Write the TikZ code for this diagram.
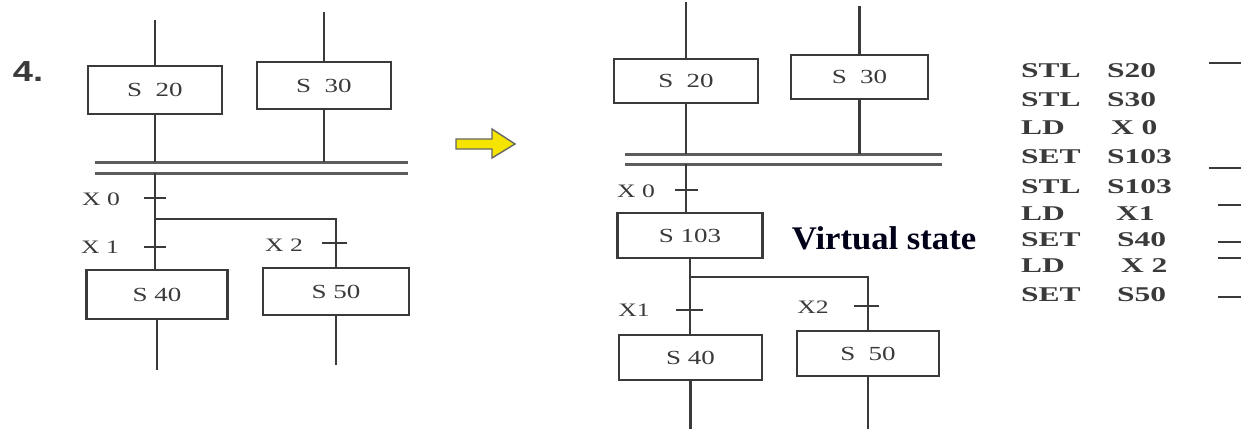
\documentclass[tikz,border=0pt]{standalone}
\usepackage{fontspec}
\setmainfont{Liberation Serif}
\newfontfamily\stepfont{Liberation Serif}[FakeStretch=1.35]
\newfontfamily\codefont{Liberation Serif}[FakeStretch=1.5]
\newfontfamily\vsfont{Liberation Serif}[FakeStretch=1.05]
\newfontfamily\numfont{Liberation Sans}[FakeStretch=1.25]
\usepackage{tikz}
\usetikzlibrary{positioning}
\definecolor{linec}{HTML}{3a3a3a}
\definecolor{barc}{HTML}{5c5c5c}
\definecolor{arrowc}{HTML}{f5e400}

\begin{document}
\begin{tikzpicture}[x=1pt,y=-1pt,
  line width=2.2pt, draw=linec,
  stepbox/.style={draw=linec, line width=2.2pt, inner sep=0pt,
    font=\stepfont\fontsize{20}{24}\selectfont, text=linec},
  trans/.style={font=\stepfont\fontsize{19}{22}\selectfont, text=linec},
  code/.style={anchor=west, inner sep=0pt,
    font=\codefont\bfseries\fontsize{21}{24}\selectfont, text=linec},
  bar/.style={draw=barc, line width=3pt}]
  \useasboundingbox (0,0) rectangle (1241,428);

  \node[font=\numfont\bfseries\fontsize{29}{32}\selectfont, text=linec] (num) at (28,72) {4.};

  % left chart: S20 and S30 joined, then split to S40 / S50
  \node[stepbox, minimum width=134, minimum height=48] (lS20) at (155,90) {S\ \ 20};
  \node[stepbox, minimum width=134, minimum height=47] (lS30) at (324,85.5) {S\ \ 30};
  \node[stepbox, minimum width=141, minimum height=49] (lS40) at (157,294.5) {S 40};
  \node[stepbox, minimum width=146, minimum height=47] (lS50) at (336,291.5) {S 50};
  \coordinate (lbar1) at (95,162);
  \coordinate (lbar2) at (95,173);
  \draw[bar] (lbar1) -- ++(313,0);
  \draw[bar] (lbar2) -- ++(313,0);
  \draw (lS20.north) -- ++(0,-45);
  \draw (lS30.north) -- ++(0,-49);
  \draw (lS20.south) -- (lS20.south |- lbar1);
  \draw (lS30.south) -- (lS30.south |- lbar1);
  \draw (lS20.south |- lbar2) -- (lS20.south |- lS40.north);
  \coordinate (lsplit) at (155,219);
  \draw (lsplit) -- (lsplit -| lS50.north) -- (lS50.north);
  \draw (lS40.south) -- ++(0,50);
  \draw (lS50.south) -- ++(0,49);
  % transitions
  \draw (144,198) -- (166,198);
  \draw (144,247) -- (166,247);
  \draw (322,243) -- (347,243);
  \node[trans] (lX0) at (101,199) {X 0};
  \node[trans] (lX1) at (100,247) {X 1};
  \node[trans] (lX2) at (284,245) {X 2};

  % arrow between the charts
  \draw[draw=gray!80!black, line width=1.4pt, fill=arrowc]
    (456,139) -- (492,139) -- (492,129) -- (515,144) -- (492,158)
    -- (492,149) -- (456,149) -- cycle;

  % right chart with the extra step S103
  \node[stepbox, minimum width=144, minimum height=44] (rS20) at (686,81) {S\ \ 20};
  \node[stepbox, minimum width=137, minimum height=44] (rS30) at (859.5,77) {S\ \ 30};
  \node[stepbox, minimum width=145, minimum height=45] (rS103) at (690,235.5) {S 103};
  \node[stepbox, minimum width=143, minimum height=45] (rS40) at (690.5,357.5) {S 40};
  \node[stepbox, minimum width=142, minimum height=45] (rS50) at (868,353.5) {S\ \ 50};
  \node[font=\vsfont\bfseries\fontsize{33}{36}\selectfont, text=black!90!blue] (vs) at (884,238) {Virtual state};
  \coordinate (rbar1) at (625,154);
  \coordinate (rbar2) at (625,164);
  \draw[bar] (rbar1) -- ++(317,0);
  \draw[bar] (rbar2) -- ++(317,0);
  \draw (rS20.north) -- ++(0,-56);
  \draw (rS30.north) -- ++(0,-48);
  \draw (rS20.south) -- (rS20.south |- rbar1);
  \draw (rS30.south) -- (rS30.south |- rbar1);
  \draw (rS20.south |- rbar2) -- (rS20.south |- rS103.north);
  \draw (rS103.south) -- (rS103.south |- rS40.north);
  \coordinate (rsplit) at (690,277);
  \draw (rsplit) -- (rsplit -| rS50.north) -- (rS50.north);
  \draw (rS40.south) -- ++(0,48);
  \draw (rS50.south) -- ++(0,52);
  % transitions
  \draw (675,190) -- (698,190);
  \draw (676,310) -- (703,310);
  \draw (854,306) -- (879,306);
  \node[trans] (rX0) at (636,191) {X 0};
  \node[trans] (rX1) at (634,310) {X1};
  \node[trans] (rX2) at (813,307) {X2};

  % instruction list
  \foreach \y/\op/\arg/\ax [count=\k] in {71/STL/S20/1106, 100/STL/S30/1106,
      128/LD/X 0/1110, 157/SET/S103/1106, 187/STL/S103/1106, 214/LD/X1/1115,
      240/SET/S40/1116, 266/LD/X 2/1120, 295/SET/S50/1116} {
    \node[code] (op\k) at (1020,\y) {\op};
    \node[code] (arg\k) at (\ax,\y) {\arg};
  }
  % rungs on the right edge
  \foreach \x/\y in {1209/63, 1209/168, 1218/205, 1218/242, 1218/258, 1218/297}
    \draw (\x,\y) -- (1241,\y);
\end{tikzpicture}
\end{document}
